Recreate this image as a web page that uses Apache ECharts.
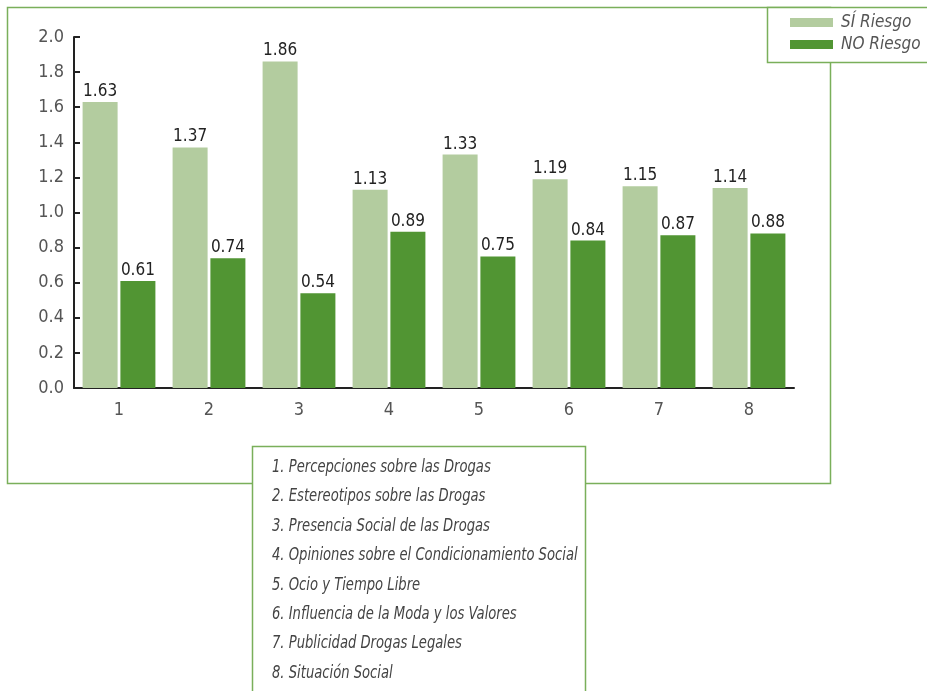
<!DOCTYPE html>
<html><head><meta charset="utf-8">
<script src="https://cdn.jsdelivr.net/npm/echarts@6/dist/echarts.min.js"></script>
<style>html,body{margin:0;padding:0;background:#fff}#c{width:927px;height:691px}</style>
</head><body><div id="c"></div>
<script>
const categories = ['1','2','3','4','5','6','7','8'];
const siRiesgo = [1.63, 1.37, 1.86, 1.13, 1.33, 1.19, 1.15, 1.14];
const noRiesgo = [0.61, 0.74, 0.54, 0.89, 0.75, 0.84, 0.87, 0.88];
const seriesNames = ['SÍ Riesgo', 'NO Riesgo'];
const notes = [
  '1. Percepciones sobre las Drogas',
  '2. Estereotipos sobre las Drogas',
  '3. Presencia Social de las Drogas',
  '4. Opiniones sobre el Condicionamiento Social',
  '5. Ocio y Tiempo Libre',
  '6. Influencia de la Moda y los Valores',
  '7. Publicidad Drogas Legales',
  '8. Situación Social'
];
const FONT = "'Liberation Sans Narrow', 'DejaVu Sans Condensed', 'Roboto', sans-serif";
const BORDER = '#7aaf5a';
const chart = echarts.init(document.getElementById('c'));
const noteTexts = notes.map((t, i) => ({
  type: 'text', x: 272, y: 459 + i * 29.4, scaleX: 0.86, z: 20,
  style: { text: t, fill: '#444', font: 'italic 17px ' + FONT }
}));
chart.setOption({
  animation: false,
  backgroundColor: '#fff',
  grid: { left: 74, right: 133, top: 37, bottom: 303 },
  legend: {
    orient: 'vertical', left: 785, top: 9, itemWidth: 43, itemHeight: 9, itemGap: 5,
    icon: 'rect', z: 20,
    textStyle: { fontFamily: FONT, fontStyle: 'italic', fontSize: 17, color: '#555', padding: [0, 0, 0, 3] },
    data: seriesNames
  },
  xAxis: {
    type: 'category', data: categories,
    axisLine: { lineStyle: { color: '#222', width: 2 } },
    axisTick: { inside: true, length: 7, lineStyle: { color: '#222', width: 2 } },
    axisLabel: { fontFamily: FONT, fontSize: 18, color: '#555', margin: 13 }
  },
  yAxis: {
    type: 'value', min: 0, max: 2, interval: 0.2,
    axisLine: { show: true, lineStyle: { color: '#222', width: 2 } },
    axisTick: { show: true, inside: true, length: 6, lineStyle: { color: '#222', width: 2 } },
    splitLine: { show: false },
    axisLabel: { fontFamily: FONT, fontSize: 18, color: '#555', margin: 10, formatter: v => v.toFixed(1) }
  },
  series: [
    { name: seriesNames[0], type: 'bar', data: siRiesgo, barWidth: 35, barGap: '8%',
      itemStyle: { color: '#b3cc9f' },
      label: { show: true, position: 'top', distance: 2, fontFamily: FONT, fontSize: 17, color: '#222', formatter: p => p.value.toFixed(2) } },
    { name: seriesNames[1], type: 'bar', data: noRiesgo, barWidth: 35, barGap: '8%',
      itemStyle: { color: '#519533' },
      label: { show: true, position: 'top', distance: 2, fontFamily: FONT, fontSize: 17, color: '#222', formatter: p => p.value.toFixed(2) } }
  ],
  graphic: [
    { type: 'rect', z: 0, shape: { x: 7.5, y: 7.5, width: 823, height: 476 },
      style: { fill: 'none', stroke: BORDER, lineWidth: 1.5 } },
    { type: 'rect', z: 10, shape: { x: 767.5, y: 7.5, width: 170, height: 55 },
      style: { fill: '#fff', stroke: BORDER, lineWidth: 1.5 } },
    { type: 'rect', z: 10, shape: { x: 252.5, y: 446.5, width: 333, height: 260 },
      style: { fill: '#fff', stroke: BORDER, lineWidth: 1.5 } }
  ].concat(noteTexts)
});
</script></body></html>
